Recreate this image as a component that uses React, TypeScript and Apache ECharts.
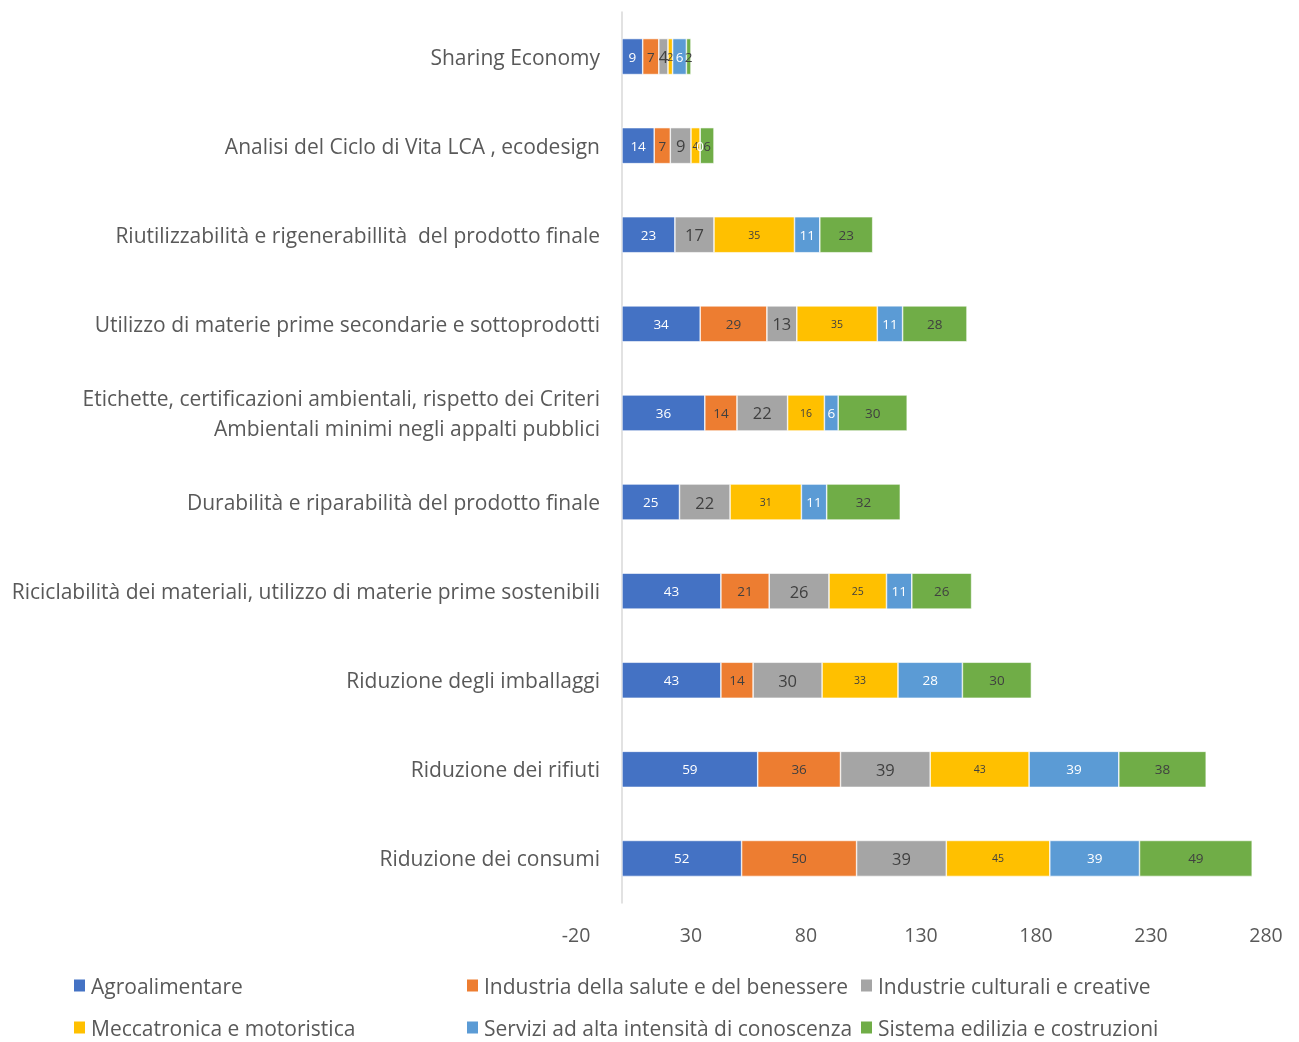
import React, { useEffect, useRef } from "react";
import * as echarts from "echarts";

const categories = [
  "Riduzione dei consumi",
  "Riduzione dei rifiuti",
  "Riduzione degli imballaggi",
  "Riciclabilità dei materiali, utilizzo di materie prime sostenibili",
  "Durabilità e riparabilità del prodotto finale",
  "Etichette, certificazioni ambientali, rispetto dei Criteri\nAmbientali minimi negli appalti pubblici",
  "Utilizzo di materie prime secondarie e sottoprodotti",
  "Riutilizzabilità e rigenerabillità  del prodotto finale",
  "Analisi del Ciclo di Vita LCA , ecodesign",
  "Sharing Economy",
];

const seriesNames = [
  "Agroalimentare",
  "Industria della salute e del benessere",
  "Industrie culturali e creative",
  "Meccatronica e motoristica",
  "Servizi ad alta intensità di conoscenza",
  "Sistema edilizia e costruzioni",
];

const agroalimentare = [52, 59, 43, 43, 25, 36, 34, 23, 14, 9];
const salute = [50, 36, 14, 21, null, 14, 29, null, 7, 7];
const culturali = [39, 39, 30, 26, 22, 22, 13, 17, 9, 4];
const meccatronica = [45, 43, 33, 25, 31, 16, 35, 35, 4, 2];
const servizi = [39, 39, 28, 11, 11, 6, 11, 11, 0, 6];
const edilizia = [49, 38, 30, 26, 32, 30, 28, 23, 6, 2];

const xTicks = [-20, 30, 80, 130, 180, 230, 280];

const colors = ["#4472C4", "#ED7D31", "#A5A5A5", "#FFC000", "#5B9BD5", "#70AD47"];
const labelColors = ["#ffffff", "#404040", "#404040", "#404040", "#ffffff", "#404040"];
const labelSizes = [13.5, 13.5, 16.5, 10.5, 13.5, 13.5];

// legend item positions (icon left x, row)
const legendLeft = [72, 465, 859, 72, 465, 859];
const legendOrder = [0, 1, 2, 3, 4, 5];
const legendRowTop = [975, 1017];

export default function App() {
  const ref = useRef<HTMLDivElement>(null);
  useEffect(() => {
    if (!ref.current) return;
    const chart = echarts.init(ref.current, null, { renderer: "svg" });
    const values = [agroalimentare, salute, culturali, meccatronica, servizi, edilizia];
    const font = "'Open Sans', sans-serif";
    const legendText = { fontSize: 21, color: "#595959", fontFamily: font };
    const legends = legendOrder.map((si, k) => ({
      orient: "horizontal" as const,
      left: legendLeft[k],
      top: legendRowTop[k < 3 ? 0 : 1],
      padding: 0,
      itemGap: 0,
      itemWidth: 13,
      itemHeight: 14,
      icon: "rect",
      textStyle: legendText,
      data: [seriesNames[si]],
    }));
    chart.setOption({
      animation: false,
      color: colors,
      textStyle: { fontFamily: font },
      grid: { left: 576, right: 33, top: 12, bottom: 139, containLabel: false },
      legend: legends,
      xAxis: {
        type: "value",
        min: xTicks[0],
        max: xTicks[xTicks.length - 1],
        interval: 50,
        axisLine: { show: false },
        axisTick: { show: false },
        splitLine: { show: false },
        axisLabel: { fontSize: 19.5, color: "#595959", margin: 21, fontFamily: font },
      },
      yAxis: {
        type: "category",
        data: categories,
        axisLine: { show: true, onZero: true, lineStyle: { color: "#d9d9d9", width: 1.5 } },
        axisTick: { show: false },
        axisLabel: {
          fontSize: 21,
          color: "#595959",
          margin: -24,
          fontFamily: font,
          lineHeight: 30,
        },
      },
      series: seriesNames.map((name, i) => ({
        name,
        type: "bar",
        stack: "total",
        barWidth: 36,
        data: values[i],
        itemStyle: { color: colors[i], borderColor: "#ffffff", borderWidth: 0.6 },
        label: {
          show: true,
          position: "inside",
          color: labelColors[i],
          fontSize: labelSizes[i],
          fontFamily: font,
        },
      })),
    });
    return () => chart.dispose();
  }, []);
  return (
    <div
      ref={ref}
      style={{ position: "fixed", left: 0, top: 0, width: 1299, height: 1042 }}
    />
  );
}
